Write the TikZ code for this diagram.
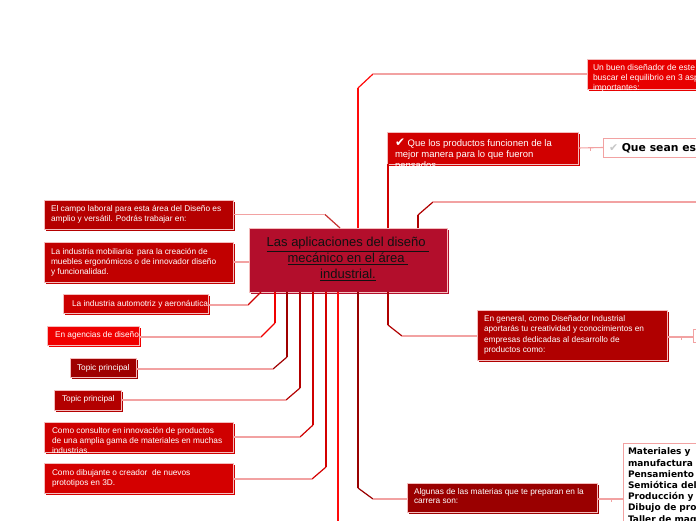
\documentclass[tikz,border=0pt]{standalone}
\usepackage{fontspec}
\setmainfont{Liberation Sans}
\newfontfamily\dejavu{DejaVu Sans}
\usetikzlibrary{shadows}
\definecolor{cCenter}{HTML}{B30E2C}
\definecolor{cBuen}{HTML}{E80000}
\definecolor{cQue}{HTML}{D10000}
\definecolor{cCampo}{HTML}{B50000}
\definecolor{cMob}{HTML}{C10000}
\definecolor{cAuto}{HTML}{CC0000}
\definecolor{cAgen}{HTML}{F00000}
\definecolor{cTopA}{HTML}{9F0000}
\definecolor{cTopB}{HTML}{B30000}
\definecolor{cCons}{HTML}{CF0000}
\definecolor{cDib}{HTML}{D40000}
\definecolor{cGen}{HTML}{B00000}
\definecolor{cAlg}{HTML}{9A0000}
\definecolor{cThird}{HTML}{B00000}
\definecolor{cDown}{HTML}{FF0a0a}
\definecolor{pinkline}{HTML}{F2A2A2}
\definecolor{boxedge}{HTML}{F4BDBD}
\definecolor{cText}{HTML}{111111}
\begin{document}
\begin{tikzpicture}[x=1pt,y=-1pt,
  box/.style={rectangle, inner sep=0pt, outer sep=0pt, anchor=north west, fill=#1, draw=boxedge, line width=0.5pt,
    drop shadow={shadow xshift=2pt, shadow yshift=-2pt, fill=#1, opacity=1}},
  wbox/.style={rectangle, inner sep=0pt, outer sep=0pt, anchor=north west, fill=white, draw=pinkline, line width=0.9pt},
  txt/.style={anchor=north west, inner sep=0pt, outer sep=0pt, align=left, text=white, font=\fontsize{8.3}{10}\selectfont},
  trunk/.style={draw=#1, line width=1.8pt},
  diag/.style={draw=#1, line width=1.2pt},
  tail/.style={draw=pinkline, line width=1.1pt},
]
\useasboundingbox (0,0) rectangle (696,520);

% ---- boxes ----
\node[box=cCenter, minimum width=198pt, minimum height=64pt] (center) at (249,228) {};
\node[box=cBuen, minimum width=130pt, minimum height=30pt] (buen) at (587,59) {};
\node[box=cQue, minimum width=191pt, minimum height=32pt] (que) at (387,132) {};
\node[wbox, minimum width=120pt, minimum height=19pt] (queSean) at (603,138) {};
\node[box=cCampo, minimum width=189pt, minimum height=29pt] (campo) at (44,200) {};
\node[box=cMob, minimum width=189pt, minimum height=40pt] (mob) at (44,242) {};
\node[box=cAuto, minimum width=145pt, minimum height=19pt] (auto) at (63,294) {};
\node[box=cAgen, minimum width=92pt, minimum height=19pt] (agen) at (47,326) {};
\node[box=cTopA, minimum width=66pt, minimum height=19pt] (topA) at (70,358) {};
\node[box=cTopB, minimum width=67pt, minimum height=20pt] (topB) at (54,390) {};
\node[box=cCons, minimum width=189pt, minimum height=30pt] (cons) at (44,422) {};
\node[box=cDib, minimum width=189pt, minimum height=30pt] (dib) at (44,463) {};
\node[box=cGen, minimum width=190pt, minimum height=50pt] (gen) at (477,310) {};
\node[wbox, minimum width=30pt, minimum height=13pt] (genR) at (693,329) {};
\node[box=cAlg, minimum width=190pt, minimum height=29pt] (alg) at (407,483) {};
\node[wbox, minimum width=100pt, minimum height=100pt] (list) at (623,443) {};

% ---- texts ----
\node[anchor=north, inner sep=0pt, align=center, text=cText, font=\fontsize{13}{16}\selectfont] (centerT) at (348,237)
  {\underline{Las aplicaciones del diseño }\\\underline{mecánico en el área }\\\underline{industrial.}};
\node[txt, font=\fontsize{8.5}{10}\selectfont] (buenT) at (593,64) {Un buen diseñador de este campo debe\\buscar el equilibrio en 3 aspectos\\importantes:};
\node[txt, font=\fontsize{9.5}{11}\selectfont] (queT) at (395,138.5) {{\dejavu\large ✔} Que los productos funcionen de la\\mejor manera para lo que fueron\\pensados};
\node[txt, text=black, font=\dejavu\bfseries\fontsize{10.8}{12}\selectfont] (queSeanT) at (609,143) {{\color{black!22}✔} Que sean estéticos};
\node[txt] (campoT) at (51,205) {El campo laboral para esta área del Diseño es\\amplio y versátil. Podrás trabajar en:};
\node[txt] (mobT) at (51,248) {La industria mobiliaria: para la creación de\\muebles ergonómicos o de innovador diseño\\y funcionalidad.};
\node[txt] (autoT) at (72,300) {La industria automotriz y aeronáutica};
\node[txt] (agenT) at (55,331) {En agencias de diseño};
\node[txt] (topAT) at (77,364) {Topic principal};
\node[txt] (topBT) at (62,395) {Topic principal};
\node[txt] (consT) at (52,427) {Como consultor en innovación de productos\\de una amplia gama de materiales en muchas\\industrias.};
\node[txt] (dibT) at (52,469) {Como dibujante o creador\ \ de nuevos\\prototipos en 3D.};
\node[txt, font=\fontsize{8.3}{10.5}\selectfont] (genT) at (484,315) {En general, como Diseñador Industrial\\aportarás tu creatividad y conocimientos en\\empresas dedicadas al desarrollo de\\productos como:};
\node[txt, font=\fontsize{8.3}{9.6}\selectfont] (algT) at (414,488) {Algunas de las materias que te preparan en la\\carrera son:};
\node[txt, text=black, font=\dejavu\bfseries\fontsize{9}{11.2}\selectfont] (listT) at (628,448)
  {Materiales y\\manufactura\\Pensamiento creativo\\Semiótica del objeto\\Producción y costos\\Dibujo de productos\\Taller de maquetas};

% ---- free ends ----
\coordinate (offR) at (700,202);
\coordinate (offB) at (338,525);

% ---- connectors: top ----
\draw[trunk=cDown] (358,0 |- center.north) -- (358,88);
\draw[diag=cDown] (358,88) -- (373,0 |- buen.west);
\draw[tail] (373,0 |- buen.west) -- (buen.west);
\draw[trunk=cQue] (388,0 |- center.north) -- (388,0 |- que.south);
\draw[tail] (que.east) -- (queSean.west);
\draw[tail, line width=0.8pt] (590,0 |- que.east) -- ++(0,2.5);
\draw[trunk=cThird] (418,0 |- center.north) -- (418,215);
\draw[diag=cThird] (418,215) -- (433,202);
\draw[tail] (433,202) -- (offR);
\draw[diag=cCampo!70!pinkline] (340,0 |- center.north) -- (325,0 |- campo.east);
\draw[tail] (325,0 |- campo.east) -- (campo.east);
\draw[tail] (mob.east) -- (center.west |- mob.east);

% ---- connectors: bottom ----
\draw[diag=cAuto] (261,0 |- center.south) -- (248,305);
\draw[tail] (248,305) -- (auto.east |- 0,305);
\draw[trunk=cAgen] (275,0 |- center.south) -- (275,323);
\draw[diag=cAgen] (275,323) -- (261,337);
\draw[tail] (261,337) -- (agen.east |- 0,337);
\draw[trunk=cTopA] (287,0 |- center.south) -- (287,357);
\draw[diag=cTopA] (287,357) -- (273,369);
\draw[tail] (273,369) -- (topA.east |- 0,369);
\draw[trunk=cTopB] (300,0 |- center.south) -- (300,388);
\draw[diag=cTopB] (300,388) -- (286,0 |- topB.east);
\draw[tail] (286,0 |- topB.east) -- (topB.east);
\draw[trunk=cCons] (313,0 |- center.south) -- (313,425);
\draw[diag=cCons] (313,425) -- (300,0 |- cons.east);
\draw[tail] (300,0 |- cons.east) -- (cons.east);
\draw[trunk=cDib] (326,0 |- center.south) -- (326,467);
\draw[diag=cDib] (326,467) -- (312,479);
\draw[tail] (312,479) -- (dib.east |- 0,479);
\draw[trunk=cDown] (338,0 |- center.south) -- (offB);
\draw[trunk=cAlg] (358,0 |- center.south) -- (358,488);
\draw[diag=cAlg] (358,488) -- (373,499);
\draw[tail] (373,499) -- (alg.west |- 0,499);
\draw[trunk=cGen] (388,0 |- center.south) -- (388,325);
\draw[diag=cGen] (388,325) -- (402,336);
\draw[tail] (402,336) -- (gen.west |- 0,336);
\draw[tail] (gen.east |- 0,337) -- (genR.west |- 0,337);
\draw[tail, line width=0.8pt] (681,337) -- ++(0,2.5);
\draw[tail] (alg.east |- 0,499) -- (list.west |- 0,499);
\draw[tail, line width=0.8pt] (611,499) -- ++(0,2.5);
\end{tikzpicture}
\end{document}
